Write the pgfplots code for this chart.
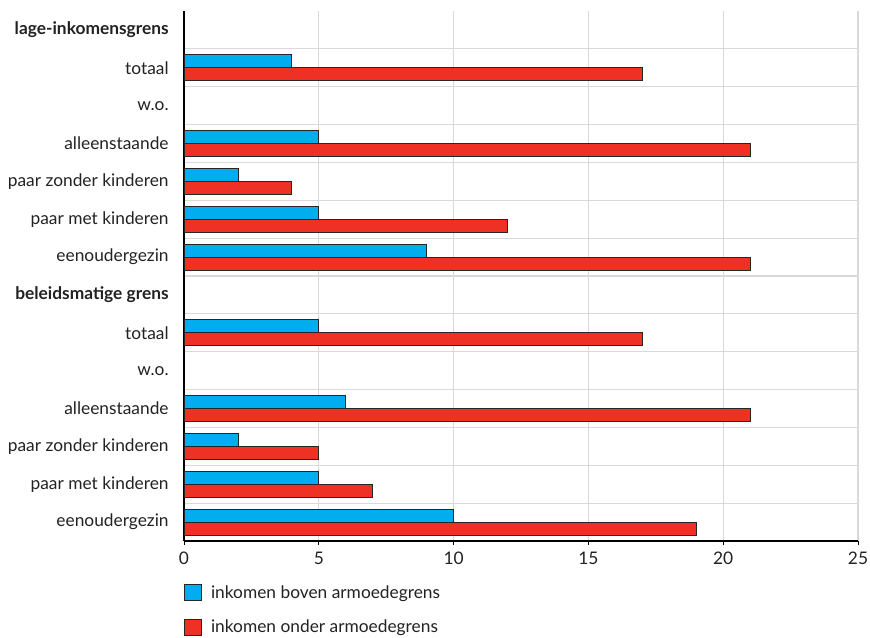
\documentclass[border=0pt]{standalone}
\usepackage{pgfplots}
\pgfplotsset{compat=1.18}
\usepackage{fontspec}
\setmainfont{Lato}
\definecolor{cblue}{HTML}{00AEEF}
\definecolor{cred}{HTML}{EE3124}
\definecolor{gridc}{HTML}{D9D9D9}
\definecolor{txt}{HTML}{222222}
\begin{document}
\begin{tikzpicture}[x=1pt,y=1pt]
\path[use as bounding box] (0,0) rectangle (652.5,477.75);
\begin{axis}[
  at={(138pt,72pt)}, anchor=south west,
  scale only axis, width=505.5pt, height=397.5pt,
  xmin=0, xmax=25, ymin=0.5, ymax=14.5,
  xtick={0,5,10,15,20,25},
  ytick={1,...,14},
  minor ytick={1.5,2.5,...,13.5},
  yticklabels={eenoudergezin, paar met kinderen, paar zonder kinderen, alleenstaande, w.o., totaal, \textbf{beleidsmatige grens}, eenoudergezin, paar met kinderen, paar zonder kinderen, alleenstaande, w.o., totaal, \textbf{lage-inkomensgrens}},
  axis x line*=bottom, axis y line*=left,
  axis line style={black, line width=0.8pt, -},
  xmajorgrids, yminorgrids,
  grid style={gridc, line width=0.8pt},
  minor grid style={gridc, line width=0.8pt},
  x tick style={black, line width=0.6pt},
  tick align=outside, major tick length=3pt,
  y tick style={draw=none},
  minor y tick style={draw=none},
  /pgf/number format/assume math mode=true,
  tick label style={font=\fontsize{13}{15}\selectfont, text=txt},
  y tick label style={xshift=-5pt},
  x tick label style={yshift=-2pt},
  xbar, bar width=9.75pt,
  legend style={at={(0,-0.078)}, anchor=north west, draw=none, inner sep=0pt,
    row sep=11pt, font=\fontsize{13}{15}\selectfont, text=txt,
    legend cell align=left},
  legend image code/.code={\draw[#1, draw=black!85, line width=0.6pt] (0pt,-6pt) rectangle (12.5pt,6pt);},
]
\addplot[fill=cblue, draw=black!85, line width=0.6pt, bar shift=4.875pt] coordinates {
(4,13) (5,11) (2,10) (5,9) (9,8) (5,6) (6,4) (2,3) (5,2) (10,1)};
\addlegendentry{\hspace{5pt}inkomen boven armoedegrens}
\addplot[fill=cred, draw=black!85, line width=0.6pt, bar shift=-4.875pt] coordinates {
(17,13) (21,11) (4,10) (12,9) (21,8) (17,6) (21,4) (5,3) (7,2) (19,1)};
\addlegendentry{\hspace{5pt}inkomen onder armoedegrens}
\end{axis}
\end{tikzpicture}
\end{document}
